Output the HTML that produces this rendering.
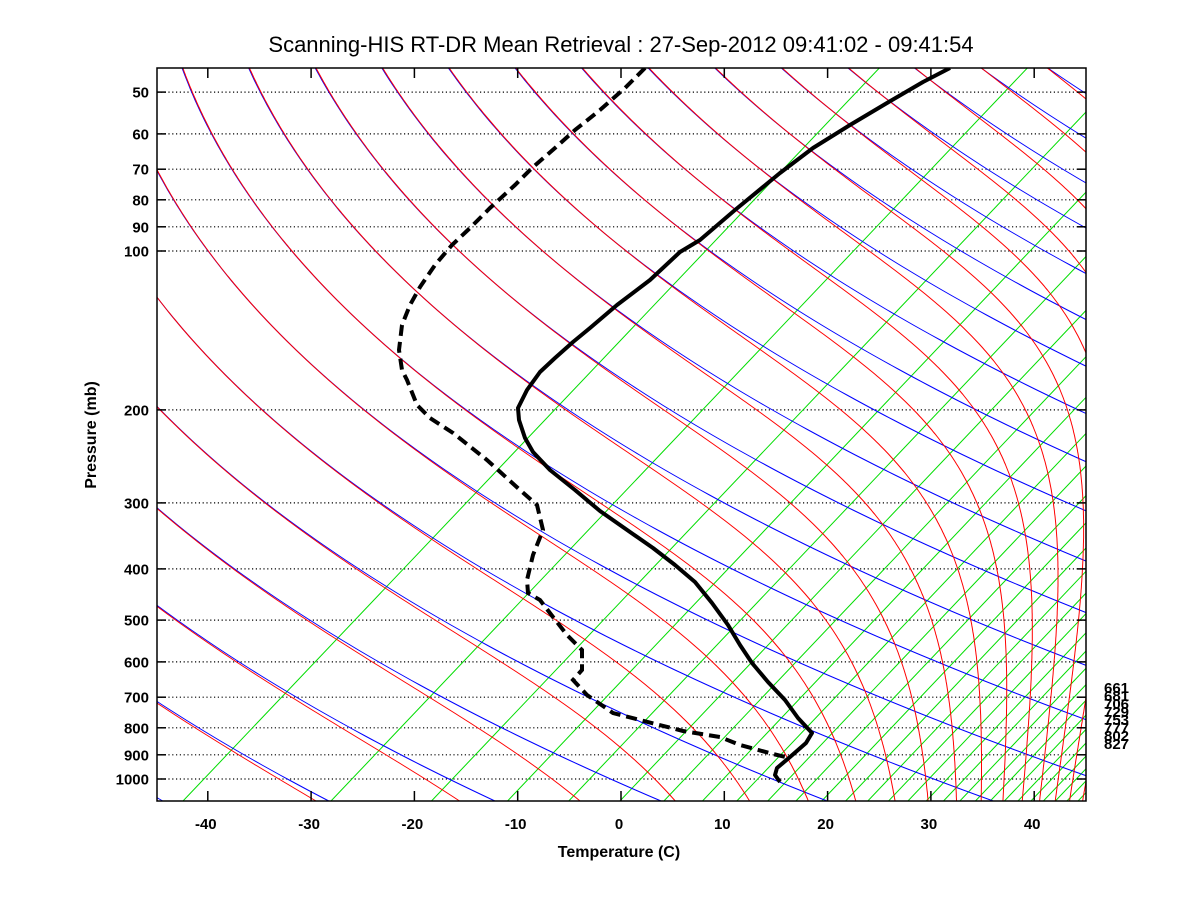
<!DOCTYPE html>
<html><head><meta charset="utf-8"><style>
html,body{margin:0;padding:0;background:#fff;}
svg{display:block;font-family:"Liberation Sans",Arial,sans-serif;}
</style></head><body>
<svg id="s" width="1200" height="900" xmlns="http://www.w3.org/2000/svg">
<defs><clipPath id="c"><rect x="157" y="68" width="929" height="733"/></clipPath></defs>
<rect width="1200" height="900" fill="#fff"/>
<g id="grid" clip-path="url(#c)"></g>
<g id="lines" clip-path="url(#c)"></g>
<g id="prof" clip-path="url(#c)"></g>
<g id="ax"></g>
<text x="621" y="52" font-size="22" text-anchor="middle">Scanning-HIS RT-DR Mean Retrieval : 27-Sep-2012 09:41:02 - 09:41:54</text>
<text x="619" y="857" font-size="16" font-weight="bold" text-anchor="middle">Temperature (C)</text>
<text transform="translate(96,435) rotate(-90)" font-size="16" font-weight="bold" text-anchor="middle">Pressure (mb)</text>
<g font-size="15" font-weight="bold" fill="#000">
<text x="1104" y="693">661</text><text x="1104" y="701">681</text><text x="1104" y="709">706</text><text x="1104" y="717">729</text><text x="1104" y="725">753</text><text x="1104" y="733">777</text><text x="1104" y="741">802</text><text x="1104" y="749">827</text>
</g>
</svg>
<script>
var NS="http://www.w3.org/2000/svg";
function el(p,t,a){var e=document.createElementNS(NS,t);for(var k in a)e.setAttribute(k,a[k]);p.appendChild(e);return e;}
function Y(p){return 251+528*Math.log10(p/100);}
function P(y){return 100*Math.pow(10,(y-251)/528);}
var G=document.getElementById('grid'),L=document.getElementById('lines'),A=document.getElementById('ax'),PR=document.getElementById('prof');
var levels=[50,60,70,80,90,100,200,300,400,500,600,700,800,900,1000];
levels.forEach(function(p){var y=Y(p).toFixed(1);
 el(G,'line',{x1:157,x2:1086,y1:y,y2:y,stroke:'#000','stroke-width':1.2,'stroke-dasharray':'1.2,2.6'});
 el(A,'line',{x1:157,x2:166,y1:y,y2:y,stroke:'#000','stroke-width':1.5});
 el(A,'line',{x1:1077,x2:1086,y1:y,y2:y,stroke:'#000','stroke-width':1.5});
 var t=el(A,'text',{x:149,y:+y+5.5,'font-size':15,'font-weight':'bold','text-anchor':'end'});t.textContent=p;});
for(var T=-40;T<=40;T+=10){var x=621+10.33*T;
 el(A,'line',{x1:x,x2:x,y1:801,y2:791,stroke:'#000','stroke-width':1.5});
 el(A,'line',{x1:x,x2:x,y1:68,y2:78,stroke:'#000','stroke-width':1.5});
 var t=el(A,'text',{x:x-2,y:829,'font-size':15,'font-weight':'bold','text-anchor':'middle'});t.textContent=T;}
el(A,'rect',{x:157,y:68,width:929,height:733,fill:'none',stroke:'#000','stroke-width':1.5});
var xb=183;
for(var n=0;n<60;n++){ if(xb>1090)break;
 el(L,'line',{x1:xb,y1:801,x2:xb+0.95*733,y2:68,stroke:'#00dd00','stroke-width':1});
 xb+=313/(n+2.115);}
var S=1.51,C=1221,K=0.001247;
function m(Tr,p){var Rd=287,cp=1005,Lv=2.5e6,eps=0.622;var tc=Tr-273.15;
 if(tc<-90)return 1;
 var es=6.112*Math.exp(17.67*tc/(tc+243.5));var rs=eps*es/Math.max(p-es,1);
 var num=(Rd*Tr+Lv*rs)/(cp+Lv*Lv*rs*eps/(Rd*Tr*Tr));var v=num/(Rd*Tr/cp);return isFinite(v)?v:1;}
for(var j=-12;j<=36;j++){
 var z0=192+68.7*j+S*93+C;
 if(j<=16){var d='';
 for(var y=60;y<=805;y+=5){var x=z0*Math.exp(K*(y-93))-S*y-C;d+=(d?'L':'M')+x.toFixed(1)+' '+y;}
 el(L,'path',{d:d,fill:'none',stroke:'#0000ff','stroke-width':1});}
 var y=60,z=z0*Math.exp(K*(y-93)),d2='';
 while(y<=806){var x=z-S*y-C+0.8;d2+=(d2?'L':'M')+x.toFixed(1)+' '+y.toFixed(1);
  var mm=m(z/11.15,P(y));z+=K*z*mm*2;y+=2;}
 el(L,'path',{d:d2,fill:'none',stroke:'#ff0000','stroke-width':1});
}
var tp=[[950,68],[923,82],[887,103],[850,125],[813,148],[780,173],[735,210],[700,240],[680,252],[650,280],[617,305],[590,328],[573,342],[555,358],[540,372],[527,390],[518,408],[519,420],[525,438],[533,452],[550,470],[575,490],[600,511],[630,532],[653,548],[675,565],[695,582],[712,603],[728,625],[740,645],[752,663],[768,682],[785,700],[798,718],[812,733],[806,743],[790,757],[777,768],[775,775],[780,782]];
var dp=[[645,68],[625,88],[600,110],[575,130],[555,148],[532,168],[515,185],[490,208],[470,228],[452,245],[435,265],[420,287],[410,305],[402,325],[399,350],[402,370],[407,380],[417,405],[430,418],[453,433],[487,460],[520,490],[537,505],[543,530],[533,555],[527,580],[528,593],[540,600],[553,617],[567,635],[582,650],[582,670],[573,680],[587,695],[613,713],[640,720],[683,731],[720,737],[740,745],[773,754],[790,758]];
function pl(a){return a.map(function(q){return q.join(',')}).join(' ');}
el(PR,'polyline',{points:pl(dp),fill:'none',stroke:'#000','stroke-width':4,'stroke-dasharray':'11,6'});
el(PR,'polyline',{points:pl(tp),fill:'none',stroke:'#000','stroke-width':4,'stroke-linejoin':'round'});
</script>
</body></html>
